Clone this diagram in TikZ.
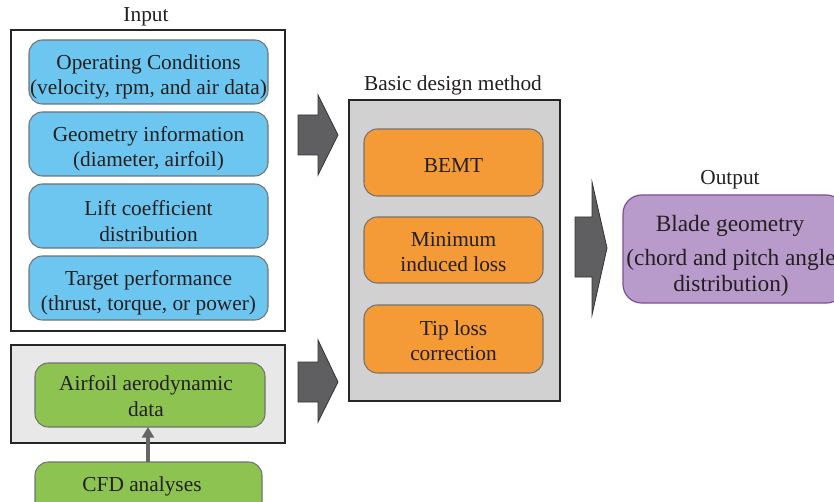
\documentclass[tikz,border=0pt]{standalone}
\usepackage{fontspec}
\usetikzlibrary{arrows.meta}
\setmainfont{Liberation Serif}
\definecolor{txt}{HTML}{231F20}
\definecolor{blueF}{HTML}{6DC6EF}
\definecolor{greenF}{HTML}{8DC350}
\definecolor{orangeF}{HTML}{F49A36}
\definecolor{purpF}{HTML}{B89BCA}
\definecolor{purpD}{HTML}{7E4E98}
\definecolor{arrF}{HTML}{5F5F61}
\begin{document}
\begin{tikzpicture}[x=0.75pt,y=-0.75pt,
  every node/.style={text=txt,font=\fontsize{16pt}{19pt}\selectfont,align=center,inner sep=0pt},
  big/.style={font=\fontsize{17.5pt}{19.5pt}\selectfont},
  rbox/.style={draw=gray!90!black,line width=0.8pt,rounded corners=10pt},
  frame/.style={draw=black!85,line width=0.9pt},
  bigarrow/.style={fill=arrF,draw=black!80,line width=0.6pt,line join=miter}]
\useasboundingbox (0,0) rectangle (834,502);
\clip (0,0) rectangle (834,502);
% Input
\node (tin) at (146,17) {Input};
\draw[frame] (11,30) rectangle (285,331);
\draw[rbox,fill=blueF] (29,40) rectangle (268,104);
\node (b1) at (148.5,77) {Operating Conditions\\(velocity, rpm, and air data)};
\draw[rbox,fill=blueF] (29,112) rectangle (268,176);
\node (b2) at (148.5,149) {Geometry information\\(diameter, airfoil)};
\draw[rbox,fill=blueF] (29,184) rectangle (268,248);
\node (b3) at (148.5,221) {Lift coefficient\\distribution};
\draw[rbox,fill=blueF] (29,256) rectangle (268,320);
\node (b4) at (148.5,293) {Target performance\\(thrust, torque, or power)};
% Airfoil data
\draw[frame,fill=black!9] (11,345) rectangle (285,443);
\draw[rbox,fill=greenF] (35,363) rectangle (265,427);
\node (g1) at (146,396) {Airfoil aerodynamic\\data};
\draw[rbox,fill=greenF] (35,462) rectangle (262,520);
\node (g2) at (142,486) {CFD analyses};
\coordinate (cfdtop) at (148,462);
\coordinate (aftbot) at (148,427);
\draw[draw=gray!80!black,line width=2.5pt,-{Triangle[length=8pt,width=9pt]}] (cfdtop) -- (aftbot);
% big arrows
\draw[bigarrow] (298,115) -- (318,115) -- (318,95) -- (338,135) -- (318,175) -- (318,155) -- (298,155) -- cycle;
\draw[bigarrow] (298,362) -- (318,362) -- (318,340) -- (338,382) -- (318,422) -- (318,402) -- (298,402) -- cycle;
\draw[bigarrow] (575,217) -- (592,217) -- (592,182) -- (607,248) -- (592,315) -- (592,277) -- (575,277) -- cycle;
% Basic design method
\node (tbd) at (453,85) {Basic design method};
\draw[frame,fill=black!18] (349,100) rectangle (560,401);
\draw[rbox,fill=orangeF] (364,129) rectangle (543,196);
\node (o1) at (453.5,166) {BEMT};
\draw[rbox,fill=orangeF] (364,217) rectangle (543,283);
\node (o2) at (453.5,252) {Minimum\\induced loss};
\draw[rbox,fill=orangeF] (364,305) rectangle (543,373);
\node (o3) at (453.5,341) {Tip loss\\correction};
% Output
\node (tout) at (730,180) {Output};
\draw[draw=purpD,line width=0.9pt,fill=purpF,rounded corners=14pt] (623,195) rectangle (845,303);
\node[big] (p1) at (730,226) {Blade geometry};
\node[big] (p2) at (731,273) {(chord and pitch angle\\distribution)};
\end{tikzpicture}
\end{document}
